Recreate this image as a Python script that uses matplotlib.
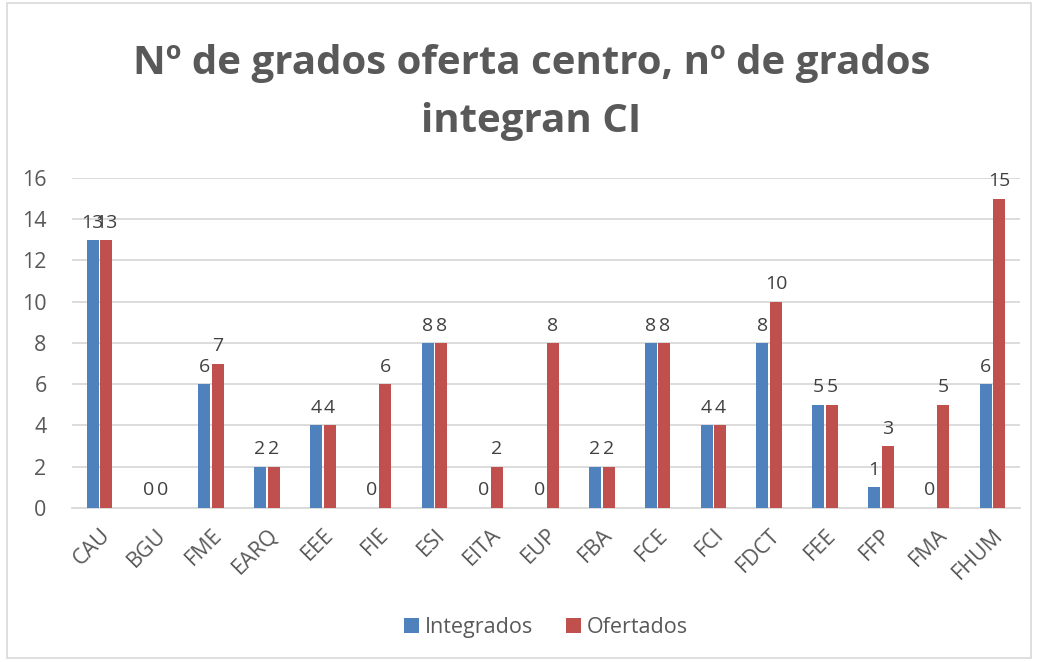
import numpy as np
import matplotlib.pyplot as plt
from matplotlib.patches import Rectangle

## ------------  Data  ---------------
centros = ['CAU', 'BGU', 'FME', 'EARQ', 'EEE', 'FIE', 'ESI', 'EITA', 'EUP',
           'FBA', 'FCE', 'FCI', 'FDCT', 'FEE', 'FFP', 'FMA', 'FHUM']
integrados = [13, 0, 6, 2, 4, 0, 8, 0, 0, 2, 8, 4, 8, 5, 1, 0, 6]
ofertados = [13, 0, 7, 2, 4, 6, 8, 2, 8, 2, 8, 4, 10, 5, 3, 5, 15]
yticks = [0, 2, 4, 6, 8, 10, 12, 14, 16]

## ------------  Style  ---------------
BLUE = '#4f81bd'
RED = '#c0504d'
GRAY = '#595959'
GRID = '#d9d9d9'
plt.rcParams['font.family'] = ['Open Sans', 'DejaVu Sans']

fig = plt.figure(figsize=(10.38, 6.62), dpi=100)
ax = fig.add_axes([0.069, 0.233, 0.914, 0.498])

x = np.arange(len(centros))
w = 0.215
gap = 0.03
b1 = ax.bar(x - w/2 - gap/2, integrados, w, color=BLUE, label='Integrados', zorder=3)
b2 = ax.bar(x + w/2 + gap/2, ofertados, w, color=RED, label='Ofertados', zorder=3)
# same look as the original: labels of neighbouring bars can touch
ax.bar_label(b1, padding=6, fontsize=14, color='#404040')
ax.bar_label(b2, padding=6, fontsize=14, color='#404040')

ax.set_xlim(-0.5, len(centros) - 0.5)
ax.set_ylim(0, 16)
ax.set_yticks(yticks)
ax.yaxis.grid(True, color=GRID, lw=1.3, zorder=0)
ax.set_xticks(x)
ax.set_xticklabels(centros, rotation=45, ha='right', va='top', rotation_mode='anchor')
ax.tick_params(axis='both', length=0, labelsize=15.5, colors=GRAY)
ax.tick_params(axis='y', pad=18)
ax.tick_params(axis='x', pad=12)
for s in ['top', 'right', 'left']:
	ax.spines[s].set_visible(False)
ax.spines['bottom'].set_color(GRID)
ax.spines['bottom'].set_linewidth(1.3)

fig.text(0.512, 0.86, 'Nº de grados oferta centro, nº de grados\nintegran CI',
         ha='center', va='center', fontsize=29, fontweight='bold', color=GRAY,
         linespacing=1.65)

ax.legend(loc='center', bbox_to_anchor=(0.5, -0.364), bbox_transform=ax.transAxes,
          ncol=2, frameon=False, fontsize=15.5, labelcolor=GRAY, handlelength=0.7,
          handleheight=0.7, columnspacing=1.5, handletextpad=0.3)

fig.patches.append(Rectangle((0.007, 0.006), 0.986, 0.99, transform=fig.transFigure,
                             fill=False, edgecolor=GRID, lw=1.2))

fig.savefig('out.png', dpi=100)
